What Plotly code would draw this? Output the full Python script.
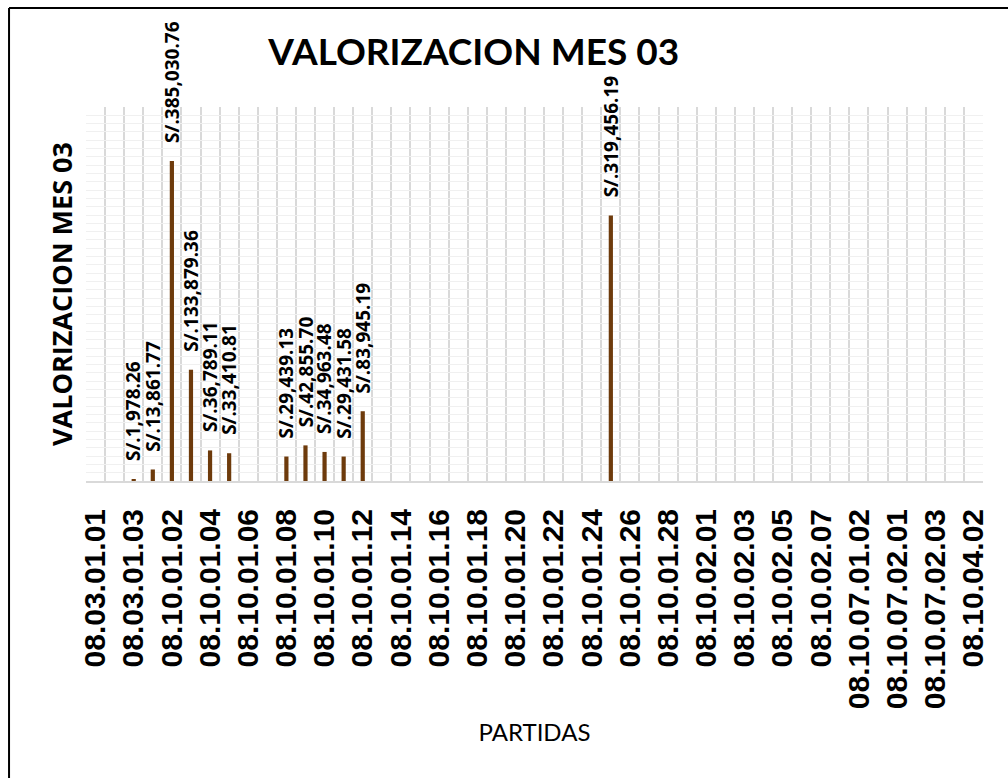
import plotly.graph_objects as go

# Partidas (budget items) in display order
partidas = [
    "08.03.01.01", "08.03.01.02", "08.03.01.03",
    "08.10.01.01", "08.10.01.02", "08.10.01.03", "08.10.01.04", "08.10.01.05",
    "08.10.01.06", "08.10.01.07", "08.10.01.08", "08.10.01.09", "08.10.01.10",
    "08.10.01.11", "08.10.01.12", "08.10.01.13", "08.10.01.14", "08.10.01.15",
    "08.10.01.16", "08.10.01.17", "08.10.01.18", "08.10.01.19", "08.10.01.20",
    "08.10.01.21", "08.10.01.22", "08.10.01.23", "08.10.01.24", "08.10.01.25",
    "08.10.01.26", "08.10.01.27", "08.10.01.28", "08.10.01.29",
    "08.10.02.01", "08.10.02.02", "08.10.02.03", "08.10.02.04", "08.10.02.05",
    "08.10.02.06", "08.10.02.07",
    "08.10.07.01.01", "08.10.07.01.02", "08.10.07.01.03",
    "08.10.07.02.01", "08.10.07.02.02", "08.10.07.02.03",
    "08.10.04.01", "08.10.04.02",
]

# Valorization for month 03 (S/.), only items with progress
valorizacion = {
    "08.03.01.03": 1978.26,
    "08.10.01.01": 13861.77,
    "08.10.01.02": 385030.76,
    "08.10.01.03": 133879.36,
    "08.10.01.04": 36789.11,
    "08.10.01.05": 33410.81,
    "08.10.01.08": 29439.13,
    "08.10.01.09": 42855.70,
    "08.10.01.10": 34963.48,
    "08.10.01.11": 29431.58,
    "08.10.01.12": 83945.19,
    "08.10.01.25": 319456.19,
}

montos = [valorizacion.get(p) for p in partidas]
# every other partida gets a visible tick label
etiquetas = [p if i % 2 == 0 else "" for i, p in enumerate(partidas)]

TITULO = "VALORIZACION MES 03"
BAR_COLOR = "#6E3B0C"

fig = go.Figure()
fig.add_trace(go.Bar(
    x=partidas,
    y=montos,
    width=0.22,
    marker=dict(color=BAR_COLOR, line=dict(width=0)),
    showlegend=False,
    hoverinfo="x+y",
))

# value labels above each bar
for p, v in zip(partidas, montos):
    if v is None:
        continue
    fig.add_annotation(
        x=p, y=v, xref="x", yref="y",
        text=f"S/.{v:,.2f}",
        textangle=-90,
        showarrow=False,
        xanchor="center", yanchor="bottom",
        yshift=16,
        font=dict(family="Open Sans", size=19, color="#000000", weight=700),
    )

# chart frame (top and left edges)
fig.add_shape(type="line", xref="paper", yref="paper",
              x0=-0.0858, x1=1.05, y0=1.2647, y1=1.2647,
              line=dict(color="#000000", width=2))
fig.add_shape(type="line", xref="paper", yref="paper",
              x0=-0.0858, x1=-0.0858, y0=1.2647, y1=-0.9,
              line=dict(color="#000000", width=2))

fig.update_layout(
    width=1008, height=778,
    margin=dict(l=86, r=25, t=107, b=297, autoexpand=False),
    paper_bgcolor="#FFFFFF",
    plot_bgcolor="#FFFFFF",
    title=dict(
        text=TITULO,
        x=0.47, xanchor="center", xref="container",
        y=1 - 52 / 778, yanchor="middle", yref="container",
        font=dict(family="Lato", size=37, color="#000000", weight=700),
    ),
    xaxis=dict(
        type="category",
        tickmode="array",
        tickvals=partidas,
        ticktext=etiquetas,
        tickson="boundaries",
        tickangle=-90,
        tickfont=dict(family="Liberation Sans", size=30, color="#000000", weight=700),
        ticks="",
        ticklabelstandoff=14,
        showgrid=True, gridcolor="#D9D9D9", gridwidth=2,
        showline=True, linecolor="#D9D9D9", linewidth=2,
        range=[-0.5, len(partidas) - 0.5],
        title=dict(text="PARTIDAS", standoff=16,
                   font=dict(family="Lato", size=24, color="#000000")),
        automargin=False,
    ),
    yaxis=dict(
        range=[0, 450000],
        dtick=10000,
        showticklabels=False,
        ticks="",
        showgrid=True, gridcolor="#F0F0F0", gridwidth=1,
        zeroline=False,
        showline=False,
        title=dict(text=TITULO, standoff=4,
                   font=dict(family="Open Sans", size=27, color="#000000", weight=700)),
        automargin=False,
    ),
    bargap=0.78,
)

fig.write_html("out.html")
